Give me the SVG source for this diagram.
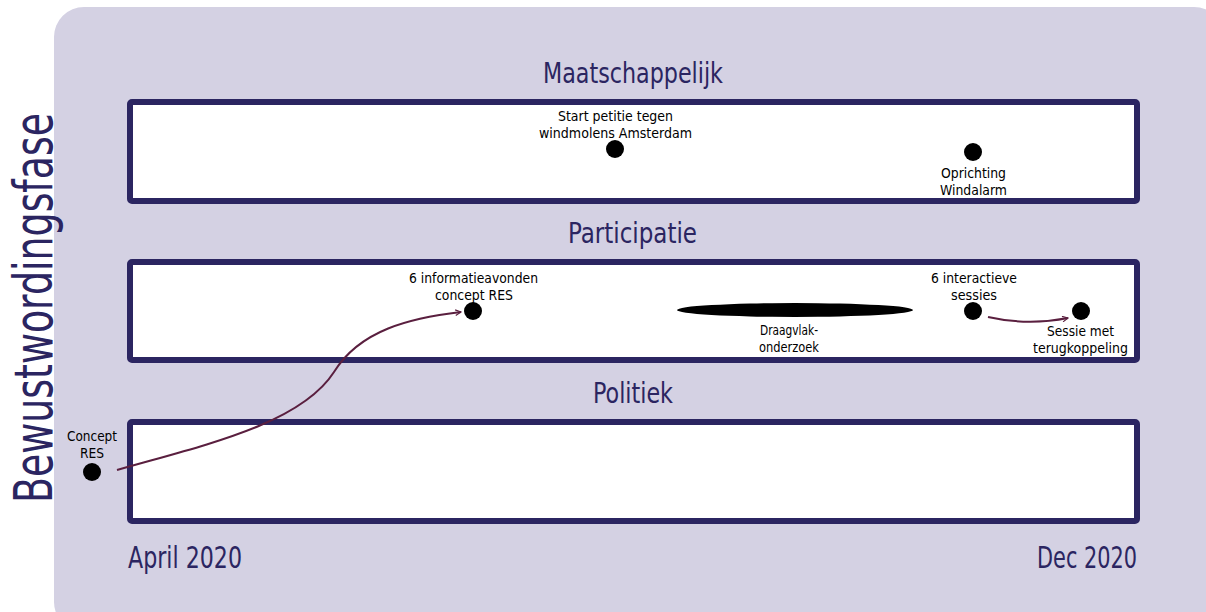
<svg xmlns="http://www.w3.org/2000/svg" width="1206" height="612" viewBox="0 0 1206 612">
<defs>
<style>
.bg{fill:#d4d1e3}
.lane{fill:#fff;stroke:#2b2561;stroke-width:6}
.title{font-family:"DejaVu Sans Condensed","DejaVu Sans",sans-serif;fill:#2b2561;text-anchor:middle}
.lbl{font-family:"DejaVu Sans Condensed","DejaVu Sans",sans-serif;font-size:14px;fill:#000;text-anchor:middle}
.dot{fill:#000}
.conn{fill:none;stroke:#5a1f3f;stroke-width:2}
</style>
<marker id="arr" viewBox="0 0 10 10" refX="9" refY="5" markerWidth="7" markerHeight="7" orient="auto" markerUnits="userSpaceOnUse">
<path d="M1,1 L9,5 L1,9" fill="none" stroke="#5a1f3f" stroke-width="1.6"/>
</marker>
</defs>
<rect class="bg" x="54" y="7" width="1170" height="625" rx="30"/>
<text class="title" transform="translate(52,308) rotate(-90)" font-size="53" textLength="390" lengthAdjust="spacingAndGlyphs">Bewustwordingsfase</text>
<g id="lane-maatschappelijk">
<text class="title" x="633" y="83" font-size="29" textLength="180" lengthAdjust="spacingAndGlyphs">Maatschappelijk</text>
<rect class="lane" x="130" y="102" width="1007" height="99" rx="2"/>
</g>
<g id="lane-participatie">
<text class="title" x="632.5" y="243" font-size="29" textLength="129" lengthAdjust="spacingAndGlyphs">Participatie</text>
<rect class="lane" x="130" y="262" width="1007" height="98" rx="2"/>
</g>
<g id="lane-politiek">
<text class="title" x="633" y="403" font-size="29" textLength="80" lengthAdjust="spacingAndGlyphs">Politiek</text>
<rect class="lane" x="130" y="422" width="1007" height="99" rx="2"/>
</g>
<g id="axis">
<text class="title" x="185" y="568" font-size="31" textLength="114" lengthAdjust="spacingAndGlyphs">April 2020</text>
<text class="title" x="1087" y="568" font-size="31" textLength="100" lengthAdjust="spacingAndGlyphs">Dec 2020</text>
</g>
<g id="connectors">
<path class="conn" d="M117,470 C200,446 300,425 334,372 C360,330 410,318 461,312" marker-end="url(#arr)"/>
<path class="conn" d="M988,317 Q1028,326 1068,318" marker-end="url(#arr)"/>
</g>
<g id="n-petitie">
<text class="lbl" x="615.5" y="121" textLength="115" lengthAdjust="spacingAndGlyphs">Start petitie tegen</text>
<text class="lbl" x="615.5" y="138" textLength="153" lengthAdjust="spacingAndGlyphs">windmolens Amsterdam</text>
<circle class="dot" cx="615" cy="149" r="9"/>
</g>
<g id="n-windalarm">
<circle class="dot" cx="973" cy="152" r="9"/>
<text class="lbl" x="973.5" y="178" textLength="65" lengthAdjust="spacingAndGlyphs">Oprichting</text>
<text class="lbl" x="973.5" y="195" textLength="67" lengthAdjust="spacingAndGlyphs">Windalarm</text>
</g>
<g id="n-informatieavonden">
<text class="lbl" x="473.5" y="283" textLength="129" lengthAdjust="spacingAndGlyphs">6 informatieavonden</text>
<text class="lbl" x="474" y="300" textLength="78" lengthAdjust="spacingAndGlyphs">concept RES</text>
<circle class="dot" cx="473" cy="311" r="9"/>
</g>
<g id="n-draagvlak">
<ellipse class="dot" cx="795" cy="310" rx="118" ry="7"/>
<text class="lbl" x="789" y="335" textLength="58" lengthAdjust="spacingAndGlyphs">Draagvlak-</text>
<text class="lbl" x="789" y="352" textLength="60" lengthAdjust="spacingAndGlyphs">onderzoek</text>
</g>
<g id="n-interactief">
<text class="lbl" x="974" y="283" textLength="86" lengthAdjust="spacingAndGlyphs">6 interactieve</text>
<text class="lbl" x="974" y="300" textLength="46" lengthAdjust="spacingAndGlyphs">sessies</text>
<circle class="dot" cx="973" cy="311" r="9"/>
</g>
<g id="n-terugkoppeling">
<circle class="dot" cx="1081" cy="311" r="9"/>
<text class="lbl" x="1080.5" y="336" textLength="67" lengthAdjust="spacingAndGlyphs">Sessie met</text>
<text class="lbl" x="1080.5" y="353" textLength="95" lengthAdjust="spacingAndGlyphs">terugkoppeling</text>
</g>
<g id="n-concept">
<text class="lbl" x="92" y="441" textLength="50" lengthAdjust="spacingAndGlyphs">Concept</text>
<text class="lbl" x="92" y="458" textLength="24" lengthAdjust="spacingAndGlyphs">RES</text>
<circle class="dot" cx="92" cy="472" r="9"/>
</g>
</svg>
